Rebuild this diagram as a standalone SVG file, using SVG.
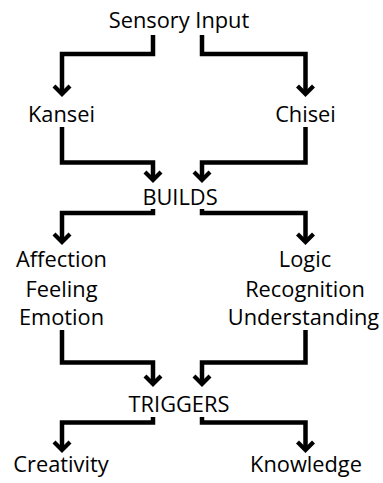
<svg xmlns="http://www.w3.org/2000/svg" width="383" height="483" viewBox="0 0 383 483">
<defs>
<style>
.t{font-family:"Open Sans","Liberation Sans",sans-serif;font-size:21.8px;fill:#000;text-anchor:middle}
.c{fill:none;stroke:#000;stroke-width:4.5;stroke-linejoin:miter;marker-end:url(#ah)}
</style>
<marker id="ah" markerUnits="userSpaceOnUse" orient="auto" refX="0" refY="0" markerWidth="1" markerHeight="1" overflow="visible">
<polyline points="-8,-8 0,0 -8,8" fill="none" stroke="#000" stroke-width="4.2" stroke-linejoin="miter" stroke-miterlimit="10"/>
</marker>
</defs>
<rect width="383" height="483" fill="#fff"/>
<g id="connectors">
<path class="c" d="M153,35 V54 H62 V94"/>
<path class="c" d="M202,35 V54 H305.5 V94"/>
<path class="c" d="M62,127 V162.5 H153 V180"/>
<path class="c" d="M305.5,127 V162.5 H202 V180"/>
<path class="c" d="M153,209 V213 H62 V242"/>
<path class="c" d="M202,209 V213 H305.5 V242"/>
<path class="c" d="M62,330 V362.5 H153 V384"/>
<path class="c" d="M305.5,330 V362.5 H202 V384"/>
<path class="c" d="M153,417 V422.5 H62 V450"/>
<path class="c" d="M202,417 V422.5 H305.5 V450"/>
</g>
<g id="sensory"><text class="t" x="179" y="28">Sensory Input</text></g>
<g id="kansei"><text class="t" x="61.5" y="122">Kansei</text></g>
<g id="chisei"><text class="t" x="305.5" y="122">Chisei</text></g>
<g id="builds"><text class="t" x="180" y="205">BUILDS</text></g>
<g id="affection">
<text class="t" x="61.5" y="267">Affection</text>
<text class="t" x="61.5" y="296.5">Feeling</text>
<text class="t" x="61.5" y="325">Emotion</text>
</g>
<g id="logic">
<text class="t" x="305" y="267">Logic</text>
<text class="t" x="305" y="296.5">Recognition</text>
<text class="t" x="303.5" y="325">Understanding</text>
</g>
<g id="triggers"><text class="t" x="179" y="412">TRIGGERS</text></g>
<g id="creativity"><text class="t" x="61" y="472">Creativity</text></g>
<g id="knowledge"><text class="t" x="306" y="472">Knowledge</text></g>
</svg>
